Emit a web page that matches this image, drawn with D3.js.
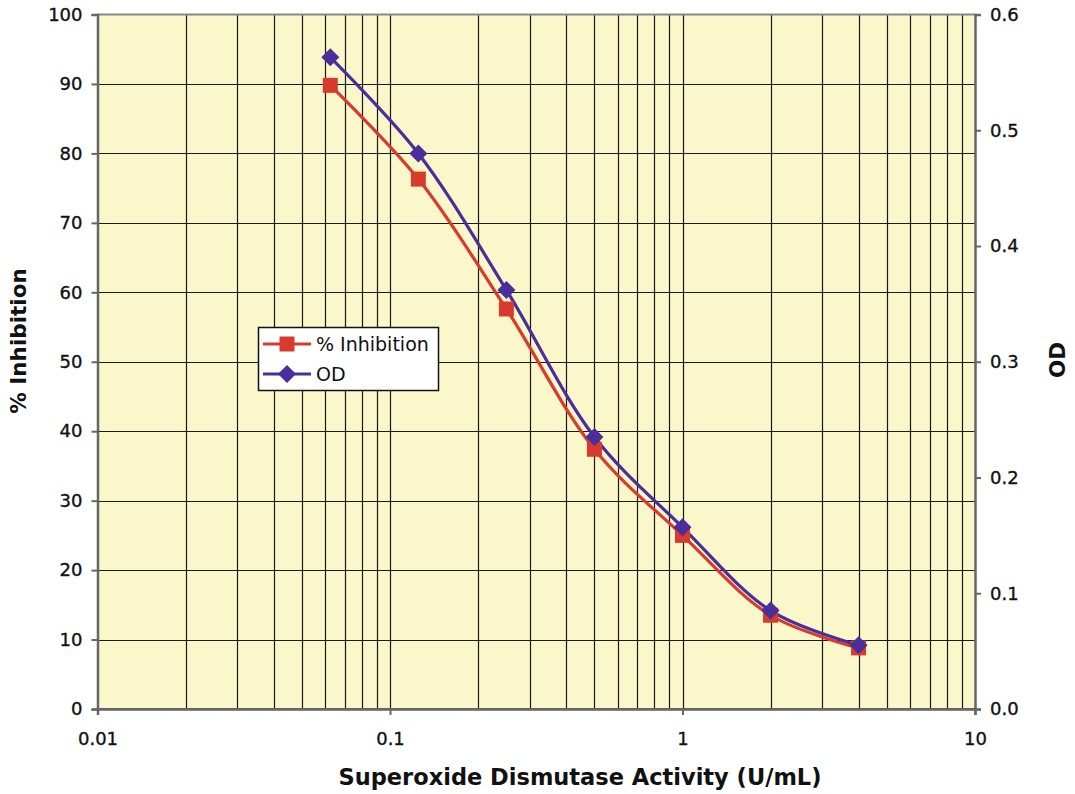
<!DOCTYPE html>
<html><head><meta charset="utf-8">
<script src="https://cdn.jsdelivr.net/npm/d3@7"></script>
<style>body{margin:0;background:#fff}svg{display:block}text{font-family:"DejaVu Sans",sans-serif;fill:#111}</style>
</head><body>
<svg id="c" width="1075" height="794"></svg>
<script>
const activity = [0.0625, 0.125, 0.25, 0.5, 1, 2, 4];
const inhibition = [89.8, 76.3, 57.6, 37.4, 25.0, 13.5, 8.8];
const od = [0.563, 0.480, 0.362, 0.235, 0.157, 0.085, 0.055];
const leftTicks = [0,10,20,30,40,50,60,70,80,90,100];
const rightTicks = [0.0,0.1,0.2,0.3,0.4,0.5,0.6];
const xTicks = [0.01, 0.1, 1, 10];

const svg = d3.select("#c");
const L = 97.5, R = 975, T = 14.5, B = 709;
const x = d3.scaleLog().domain([0.01, 10]).range([L, R]);
const yL = d3.scaleLinear().domain([0, 100]).range([B, T]);
const yR = d3.scaleLinear().domain([0, 0.6]).range([B, T]);

svg.append("rect").attr("x", L).attr("y", T).attr("width", R-L).attr("height", B-T).attr("fill", "#FAF7CA");

const minor = [];
for (let d = 0.01; d < 10; d *= 10) for (let k = 1; k <= 9; k++) minor.push(+(d*k).toPrecision(3));
svg.append("g").selectAll("line").data(minor.filter(v => v > 0.01)).join("line")
  .attr("x1", d => Math.round(x(d))+0.5).attr("x2", d => Math.round(x(d))+0.5).attr("y1", T).attr("y2", B)
  .attr("stroke", "#1a1a1a").attr("stroke-width", 1.2);
svg.append("g").selectAll("line").data(leftTicks.filter(v => v > 0 && v < 100)).join("line")
  .attr("x1", L).attr("x2", R).attr("y1", d => Math.round(yL(d))+0.5).attr("y2", d => Math.round(yL(d))+0.5)
  .attr("stroke", "#1a1a1a").attr("stroke-width", 1.2);

svg.append("line").attr("x1", L).attr("x2", R).attr("y1", T).attr("y2", T).attr("stroke", "#888").attr("stroke-width", 2);
svg.append("line").attr("x1", L).attr("x2", R).attr("y1", B).attr("y2", B).attr("stroke", "#666").attr("stroke-width", 2);

const axL = svg.append("g").attr("transform", `translate(${L},0)`)
  .call(d3.axisLeft(yL).tickValues(leftTicks).tickSize(6).tickPadding(9).tickFormat(d3.format("d")));
const axR = svg.append("g").attr("transform", `translate(${R},0)`)
  .call(d3.axisRight(yR).tickValues(rightTicks).tickSize(6).tickPadding(9).tickFormat(d3.format(".1f")));
const axB = svg.append("g").attr("transform", `translate(0,${B})`)
  .call(d3.axisBottom(x).tickValues(xTicks).tickSize(6).tickPadding(17).tickFormat(d => String(d)));
[axL, axR, axB].forEach(g => {
  g.select(".domain").attr("stroke", "#666").attr("stroke-width", 2.5);
  g.selectAll(".tick line").attr("stroke", "#666").attr("stroke-width", 2);
  g.selectAll(".tick text").attr("font-size", 18).attr("fill", "#111").attr("stroke", "#111").attr("stroke-width", 0.35)
    .attr("font-family", "'DejaVu Sans',sans-serif");
});

svg.append("text").attr("x", 580).attr("y", 785).attr("text-anchor", "middle").attr("font-size", 22.5).attr("font-weight", 700).text("Superoxide Dismutase Activity (U/mL)");
svg.append("text").attr("transform", "translate(26,341) rotate(-90)").attr("text-anchor", "middle").attr("font-size", 21.5).attr("font-weight", 700).text("% Inhibition");
svg.append("text").attr("transform", "translate(1065,360) rotate(-90)").attr("text-anchor", "middle").attr("font-size", 21.5).attr("font-weight", 700).text("OD");

const red = "#D83A2E", purple = "#4A2E9C";
const lineL = d3.line().x((d,i) => x(activity[i])).y(d => yL(d)).curve(d3.curveCatmullRom.alpha(0.5));
const lineR = d3.line().x((d,i) => x(activity[i])).y(d => yR(d)).curve(d3.curveCatmullRom.alpha(0.5));

svg.append("path").datum(inhibition).attr("d", lineL).attr("fill", "none").attr("stroke", red).attr("stroke-width", 3.2);
svg.append("path").datum(od).attr("d", lineR).attr("fill", "none").attr("stroke", purple).attr("stroke-width", 3.2);

const sq = 15, dm = 9;
svg.append("g").selectAll("rect").data(inhibition).join("rect")
  .attr("x", (d,i) => x(activity[i]) - sq/2).attr("y", d => yL(d) - sq/2).attr("width", sq).attr("height", sq)
  .attr("fill", red);
svg.append("g").selectAll("path").data(od).join("path")
  .attr("d", (d,i) => { const cx = x(activity[i]), cy = yR(d); return `M${cx},${cy-dm}L${cx+dm},${cy}L${cx},${cy+dm}L${cx-dm},${cy}Z`; })
  .attr("fill", purple);

const lg = svg.append("g");
lg.append("rect").attr("x", 258.5).attr("y", 327.5).attr("width", 180).attr("height", 63).attr("fill", "#fff").attr("stroke", "#111").attr("stroke-width", 1.5);
const items = [{name:"% Inhibition", color: red, shape:"sq"}, {name:"OD", color: purple, shape:"dm"}];
items.forEach((it, i) => {
  const cy = 344 + i*30;
  lg.append("line").attr("x1", 263).attr("x2", 311).attr("y1", cy).attr("y2", cy).attr("stroke", it.color).attr("stroke-width", 3.2);
  if (it.shape === "sq") lg.append("rect").attr("x", 287-7.5).attr("y", cy-7.5).attr("width", 15).attr("height", 15).attr("fill", it.color);
  else lg.append("path").attr("d", `M287,${cy-9}L296,${cy}L287,${cy+9}L278,${cy}Z`).attr("fill", it.color);
  lg.append("text").attr("x", 316).attr("y", cy + 7).attr("font-size", 19).text(it.name);
});
</script>
</body></html>
